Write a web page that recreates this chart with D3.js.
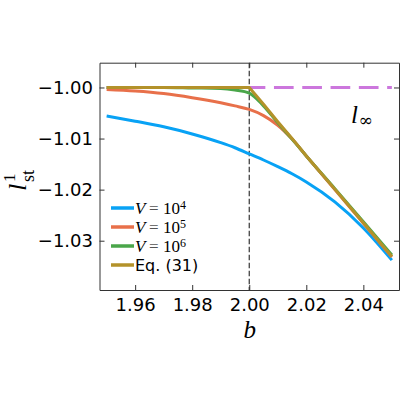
<!DOCTYPE html>
<html>
<head>
<meta charset="utf-8">
<script src="https://cdn.jsdelivr.net/npm/d3@7"></script>
<style>
  html, body { margin: 0; padding: 0; background: #fff; }
  svg { display: block; }
</style>
</head>
<body>
<svg id="chart" width="400" height="400"></svg>
<script>
// ---- data ----
const bGrid = [1.95, 1.96, 1.97, 1.98, 1.99, 1.995, 2.00, 2.005, 2.01, 2.015, 2.02, 2.03, 2.04, 2.05];
const lV1e4 = [-1.0056, -1.0066, -1.0077, -1.0091, -1.0108, -1.0118, -1.0130, -1.0142, -1.0155, -1.0169, -1.0185, -1.0224, -1.0275, -1.0338];
const lV1e5 = [-1.0004, -1.0007, -1.0012, -1.0020, -1.0030, -1.0036, -1.0043, -1.0055, -1.0074, -1.0101, -1.0134, -1.0200, -1.0266, -1.0332];
const lV1e6 = [-1.0000, -1.0000, -1.0000, -1.0001, -1.0002, -1.0005, -1.0011, -1.0036, -1.0069, -1.0101, -1.0134, -1.0198, -1.0263, -1.0328];
const lEq31 = [-1.0000, -1.0000, -1.0000, -1.0000, -1.0000, -1.0000, -1.0000, -1.0033, -1.0067, -1.0100, -1.0134, -1.0199, -1.0265, -1.0331];
const lInfB = [1.95, 2.05];
const lInfV = [-1.0, -1.0];
const bCritical = 2.00;
const seriesNames = ["V = 10^4", "V = 10^5", "V = 10^6", "Eq. (31)"];
const seriesColors = ["#08a2f5", "#e8704a", "#4aa64a", "#b3922a"];
const xTicks = [1.96, 1.98, 2.00, 2.02, 2.04];
const yTicks = [-1.00, -1.01, -1.02, -1.03];

// ---- layout ----
const svg = d3.select("#chart");
const L = 99.5, R = 399, T = 62.7, B = 290;
const x = d3.scaleLinear().domain([1.9475, 2.0525]).range([L, R]);
const y = d3.scaleLinear().domain([-0.99515, -1.03965]).range([T, B]);

const mathFont = "'Liberation Serif', 'DejaVu Serif', serif";
const sansFont = "'DejaVu Sans', sans-serif";
const axisColor = "#333";

const plot = svg.append("g");
plot.append("defs").append("clipPath").attr("id", "clip")
  .append("rect").attr("x", L).attr("y", T).attr("width", R - L).attr("height", B - T);
const inner = plot.append("g").attr("clip-path", "url(#clip)");

// l_inf dashed line
const lineLin = d3.line().x(d => x(d[0])).y(d => y(d[1]));
const period = 28.3;
const offs = period - ((x(bCritical) - 3.6 - x(lInfB[0])) % period);
inner.append("path")
  .attr("d", lineLin(lInfB.map((b, i) => [b, lInfV[i]])))
  .attr("fill", "none").attr("stroke", "#cc77dd").attr("stroke-width", 3)
  .attr("stroke-dasharray", "19.7,8.6")
  .attr("stroke-dashoffset", offs);

// vertical dashed line at b = 2
inner.append("line")
  .attr("x1", x(bCritical)).attr("x2", x(bCritical))
  .attr("y1", T).attr("y2", B)
  .attr("stroke", "#333").attr("stroke-width", 1.2)
  .attr("stroke-dasharray", "5.5,2.5");

const seriesVals = [lV1e4, lV1e5, lV1e6, lEq31];
const lineSmooth = d3.line().x(d => x(d[0])).y(d => y(d[1])).curve(d3.curveMonotoneX);
seriesVals.forEach((vals, i) => {
  const pts = bGrid.map((b, j) => [b, vals[j]]);
  inner.append("path")
    .attr("d", (i === 3 ? lineLin : lineSmooth)(pts))
    .attr("fill", "none")
    .attr("stroke", seriesColors[i])
    .attr("stroke-width", 3)
    .attr("stroke-linejoin", "round")
    .attr("stroke-linecap", "butt");
});

// ---- axes ----
function styleAxis(g) {
  g.select(".domain").attr("stroke", axisColor).attr("stroke-width", 1);
  g.selectAll(".tick line").attr("stroke", axisColor).attr("stroke-width", 1);
  g.selectAll(".tick text").attr("fill", "#000").attr("font-family", sansFont).attr("font-size", 18);
}
const fmt = d3.format(".2f");
svg.append("g").attr("transform", `translate(0,${B})`)
  .call(d3.axisBottom(x).tickValues(xTicks).tickFormat(fmt).tickSizeInner(-5).tickSizeOuter(0).tickPadding(8))
  .call(styleAxis);
svg.append("g").attr("transform", `translate(0,${T})`)
  .call(d3.axisTop(x).tickValues(xTicks).tickFormat("").tickSizeInner(-5).tickSizeOuter(0))
  .call(styleAxis);
svg.append("g").attr("transform", `translate(${L},0)`)
  .call(d3.axisLeft(y).tickValues(yTicks).tickFormat(fmt).tickSizeInner(-5).tickSizeOuter(0).tickPadding(6.5))
  .call(styleAxis);
svg.append("g").attr("transform", `translate(${R},0)`)
  .call(d3.axisRight(y).tickValues(yTicks).tickFormat("").tickSizeInner(-5).tickSizeOuter(0))
  .call(styleAxis);
svg.selectAll(".domain").attr("fill", "none");

// ---- axis labels ----
svg.append("text").attr("x", (L + R) / 2 + 0.5).attr("y", 338)
  .attr("text-anchor", "middle").attr("font-family", mathFont).attr("font-style", "italic")
  .attr("font-size", 25).text("b");

const yl = svg.append("g").attr("transform", "translate(26,191) rotate(-90)");
yl.append("text").attr("x", 0).attr("y", 0).attr("font-family", mathFont).attr("font-style", "italic")
  .attr("font-size", 26).text("l");
yl.append("text").attr("x", 9).attr("y", -11).attr("font-family", mathFont)
  .attr("font-size", 17).text("1");
yl.append("text").attr("x", 9).attr("y", 8).attr("font-family", mathFont)
  .attr("font-size", 18).text("st");

// l_inf annotation
const li = svg.append("text").attr("x", 351).attr("y", 123).attr("font-family", mathFont);
li.append("tspan").attr("font-style", "italic").attr("font-size", 25).text("l");
li.append("tspan").attr("font-size", 17).attr("dy", 3).attr("dx", 0.5).attr("font-family", "'DejaVu Serif', serif").text("\u221E");

// ---- legend ----
const legY = [208, 227, 246, 265];
seriesNames.forEach((name, i) => {
  const gy = legY[i];
  svg.append("line").attr("x1", 111).attr("x2", 134).attr("y1", gy).attr("y2", gy)
    .attr("stroke", seriesColors[i]).attr("stroke-width", 3.5);
  const t = svg.append("text").attr("x", 135).attr("y", gy + 5.5);
  const m = name.match(/^V = 10\^(\d)$/);
  if (m) {
    t.attr("font-family", mathFont).attr("font-size", 17);
    t.append("tspan").attr("font-style", "italic").text("V");
    t.append("tspan").attr("dx", 3.5).attr("fill", "#555").text("=");
    t.append("tspan").attr("dx", 4.5).text("10");
    t.append("tspan").attr("font-size", 12).attr("dy", -5).text(m[1]);
  } else {
    t.attr("font-family", sansFont).attr("font-size", 16).text(name);
  }
});
</script>
</body>
</html>
